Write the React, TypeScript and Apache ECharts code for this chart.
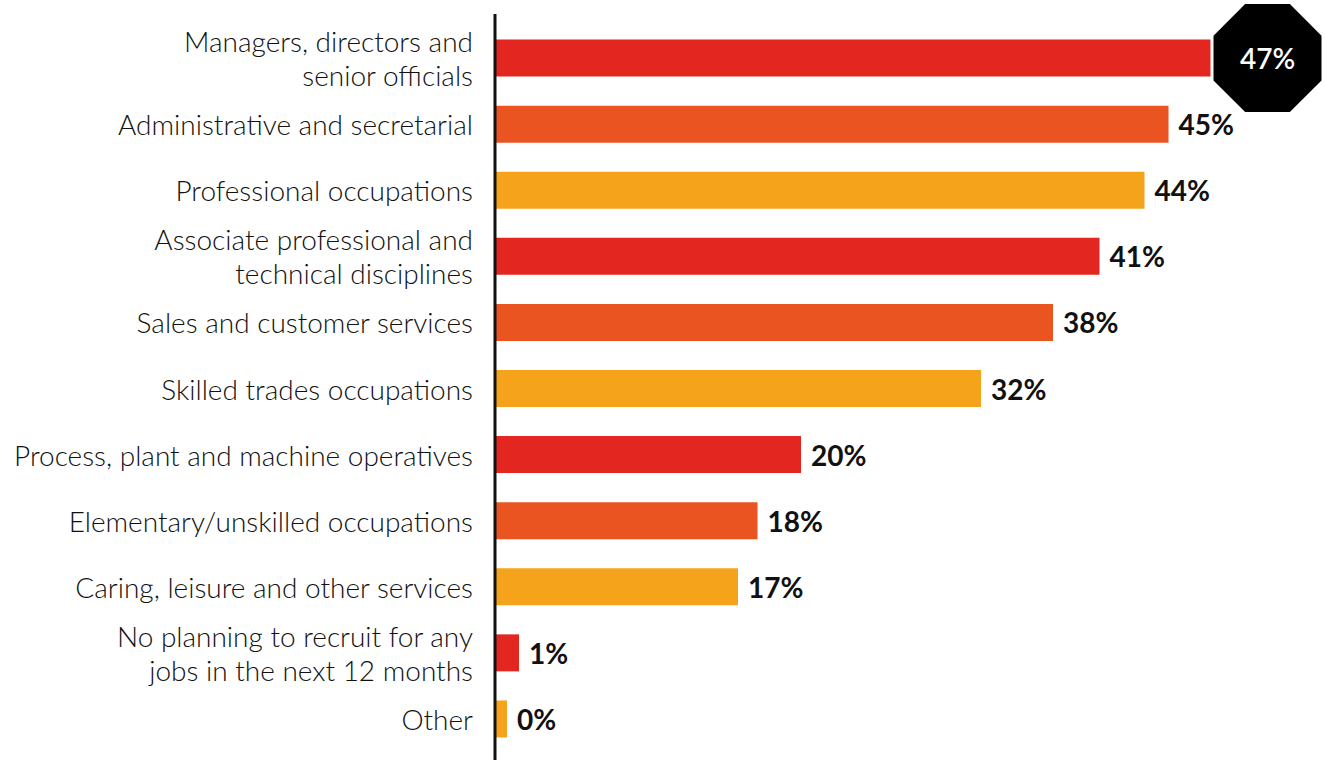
import React, { useEffect, useRef } from "react";
import * as echarts from "echarts";

const categories = [
  "Managers, directors and\nsenior officials",
  "Administrative and secretarial",
  "Professional occupations",
  "Associate professional and\ntechnical disciplines",
  "Sales and customer services",
  "Skilled trades occupations",
  "Process, plant and machine operatives",
  "Elementary/unskilled occupations",
  "Caring, leisure and other services",
  "No planning to recruit for any\njobs in the next 12 months",
  "Other",
];
const values = [47.7, 44.9, 43.3, 40.3, 37.2, 32.4, 20.4, 17.5, 16.2, 1.6, 0.8];
const valueLabels = ["47%", "45%", "44%", "41%", "38%", "32%", "20%", "18%", "17%", "1%", "0%"];
const barColors = [
  "#E3261F", "#E95421", "#F5A31B",
  "#E3261F", "#E95421", "#F5A31B",
  "#E3261F", "#E95421", "#F5A31B",
  "#E3261F", "#F5A31B",
];
const highlightIndex = 0;

const FONT = "Lato, 'Noto Sans', sans-serif";
const OCTAGON =
  "path://M29.3,0 L70.7,0 L100,29.3 L100,70.7 L70.7,100 L29.3,100 L0,70.7 L0,29.3 Z";

export default function App() {
  const ref = useRef<HTMLDivElement>(null);
  useEffect(() => {
    if (!ref.current) return;
    const chart = echarts.init(ref.current, undefined, { renderer: "svg" });
    chart.setOption({
      animation: false,
      backgroundColor: "#ffffff",
      grid: { left: 495, right: 80, top: 25, bottom: 8, containLabel: false },
      xAxis: {
        type: "value",
        min: 0,
        max: 50,
        show: false,
      },
      yAxis: {
        type: "category",
        inverse: true,
        data: categories,
        axisLine: { show: false },
        axisTick: { show: false },
        splitLine: { show: false },
        axisLabel: {
          fontFamily: FONT,
          fontSize: 28,
          fontWeight: 300,
          color: "#111111",
          lineHeight: 34,
          margin: 22,
          align: "right",
        },
      },
      graphic: [
        {
          type: "line",
          shape: { x1: 495, y1: 14, x2: 495, y2: 760 },
          style: { stroke: "#111111", lineWidth: 3 },
          z: 100,
        },
      ],
      series: [
        {
          type: "bar",
          barWidth: 37,
          data: values.map((v, i) => ({
            value: v,
            itemStyle: { color: barColors[i] },
            label: i === highlightIndex ? { show: false } : undefined,
          })),
          label: {
            show: true,
            position: "right",
            distance: 10,
            fontFamily: FONT,
            fontSize: 28,
            fontWeight: "bold",
            color: "#111111",
            formatter: (p: any) => valueLabels[p.dataIndex],
          },
        },
        {
          type: "scatter",
          symbol: OCTAGON,
          symbolSize: 108,
          symbolOffset: [57, 0],
          itemStyle: { color: "#000000", opacity: 1 },
          data: [[values[highlightIndex], categories[highlightIndex]]],
          label: {
            show: true,
            position: "inside",
            fontFamily: FONT,
            fontSize: 28,
            fontWeight: 600,
            color: "#ffffff",
            formatter: () => valueLabels[highlightIndex],
          },
          z: 5,
        },
      ],
    });
    return () => chart.dispose();
  }, []);
  return (
    <div
      ref={ref}
      style={{ position: "fixed", left: 0, top: 0, width: 1325, height: 760 }}
    />
  );
}
